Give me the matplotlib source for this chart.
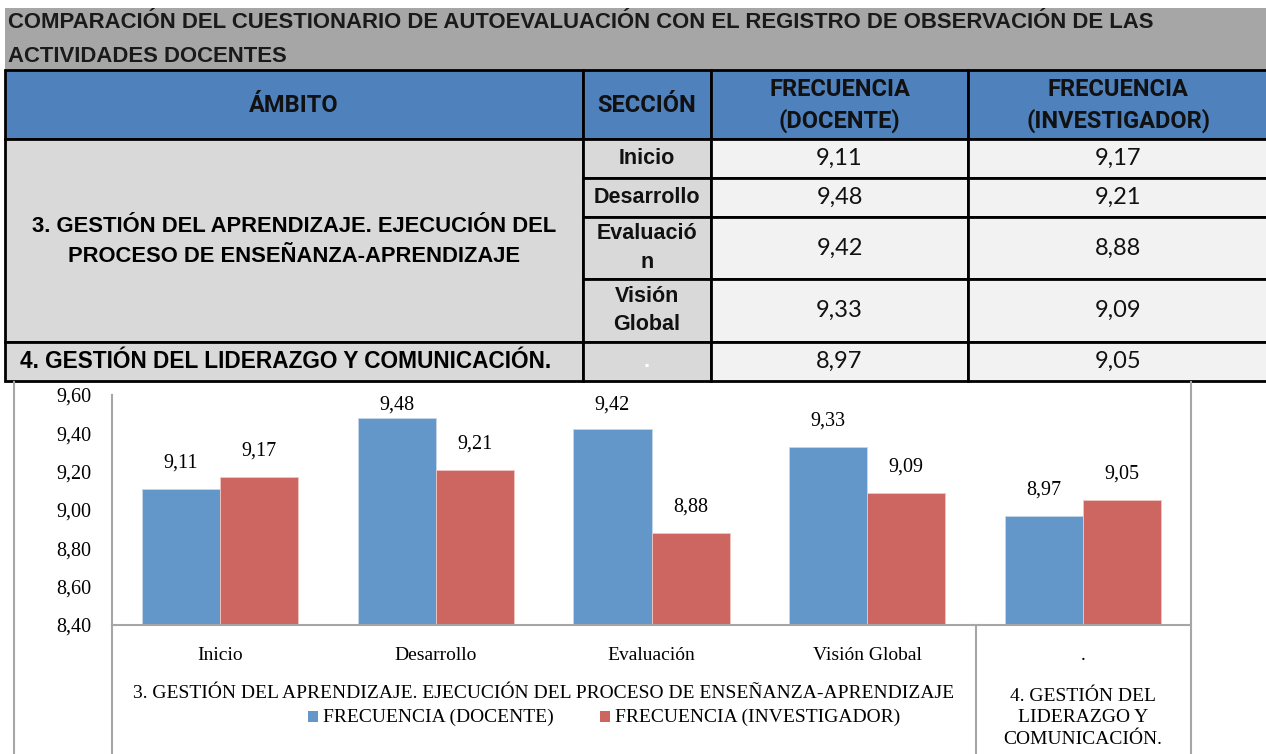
import matplotlib.pyplot as plt
from matplotlib.patches import Rectangle
import numpy as np

W, H = 1266, 754

titulo = ["COMPARACIÓN DEL CUESTIONARIO DE AUTOEVALUACIÓN CON EL REGISTRO DE OBSERVACIÓN DE LAS",
          "ACTIVIDADES DOCENTES"]
encabezados = ["ÁMBITO", "SECCIÓN", "FRECUENCIA\n(DOCENTE)", "FRECUENCIA\n(INVESTIGADOR)"]
ambitos_tabla = ["3. GESTIÓN DEL APRENDIZAJE. EJECUCIÓN DEL\nPROCESO DE ENSEÑANZA-APRENDIZAJE",
                 "4. GESTIÓN DEL LIDERAZGO Y COMUNICACIÓN."]
ambitos_graf = ["3. GESTIÓN DEL APRENDIZAJE. EJECUCIÓN DEL PROCESO DE ENSEÑANZA-APRENDIZAJE",
                "4. GESTIÓN DEL\nLIDERAZGO Y\nCOMUNICACIÓN."]
secciones = ["Inicio", "Desarrollo", "Evaluación", "Visión Global", "."]
secciones_tabla = ["Inicio", "Desarrollo", "Evaluació\nn", "Visión\nGlobal", "."]
docente = [9.11, 9.48, 9.42, 9.33, 8.97]
investigador = [9.17, 9.21, 8.88, 9.09, 9.05]
series = ["FRECUENCIA (DOCENTE)", "FRECUENCIA (INVESTIGADOR)"]

AZUL = "#6397ca"
ROJO = "#cd6660"
GRIS = "#a6a6a6"
NARROW = ["Liberation Sans Narrow", "Liberation Sans", "DejaVu Sans"]
CALIBRI = ["Lato", "DejaVu Sans"]
CALIBRI_B = ["Roboto", "Liberation Sans", "DejaVu Sans"]
SERIF = ["Liberation Serif", "DejaVu Serif"]


def coma(v):
    return f"{v:.2f}".replace(".", ",")


fig = plt.figure(figsize=(W / 100, H / 100), dpi=100)
bg = fig.add_axes([0, 0, 1, 1])
bg.set_xlim(0, W)
bg.set_ylim(H, 0)
bg.axis("off")

# --- title band ---
bg.add_patch(Rectangle((5, 8), W - 5, 62, facecolor="#a6a6a6", edgecolor="none"))
bg.text(8, 23, titulo[0], family=NARROW, weight="bold", fontsize=15.9, va="center", color="#1a1a1a")
bg.text(8, 57, titulo[1], family=NARROW, weight="bold", fontsize=15.9, va="center", color="#1a1a1a")

# --- table ---
col_x = [5, 583, 711, 968, W + 2]
row_y = [70, 139, 178, 217, 279, 342, 381]


def cell(x0, x1, y0, y1, fc):
    bg.add_patch(Rectangle((x0, y0), x1 - x0, y1 - y0, facecolor=fc, edgecolor="black", lw=2))


for j in range(4):
    cell(col_x[j], col_x[j + 1], row_y[0], row_y[1], "#4f81bd")
    bg.text((col_x[j] + col_x[j + 1]) / 2, (row_y[0] + row_y[1]) / 2 + 1, encabezados[j],
            family=CALIBRI_B, weight="bold", fontsize=17, ha="center", va="center",
            color="#111111", linespacing=1.4)

# merged ambit cells
cell(col_x[0], col_x[1], row_y[1], row_y[5], "#d9d9d9")
bg.text((col_x[0] + col_x[1]) / 2, (row_y[1] + row_y[5]) / 2 + 1, ambitos_tabla[0],
        family=NARROW, weight="bold", fontsize=15.8, ha="center", va="center", linespacing=1.5)
cell(col_x[0], col_x[1], row_y[5], row_y[6], "#d9d9d9")
bg.text((col_x[0] + col_x[1]) / 2 - 8, (row_y[5] + row_y[6]) / 2, ambitos_tabla[1],
        family=NARROW, weight="bold", fontsize=16.3, ha="center", va="center")

for i in range(5):
    y0, y1 = row_y[i + 1], row_y[i + 2]
    ym = (y0 + y1) / 2
    cell(col_x[1], col_x[2], y0, y1, "#d9d9d9")
    bg.text((col_x[1] + col_x[2]) / 2, ym, secciones_tabla[i], family=NARROW, weight="bold",
            fontsize=15.5, ha="center", va="center", linespacing=1.45,
            color="white" if secciones_tabla[i] == "." else "#111111")
    cell(col_x[2], col_x[3], y0, y1, "#f2f2f2")
    bg.text((col_x[2] + col_x[3]) / 2, ym, coma(docente[i]), family=CALIBRI,
            fontsize=17, ha="center", va="center", color="#111111")
    cell(col_x[3], col_x[4], y0, y1, "#f2f2f2")
    bg.text((col_x[3] + col_x[4]) / 2, ym, coma(investigador[i]), family=CALIBRI,
            fontsize=17, ha="center", va="center", color="#111111")

# --- chart frame ---
for xl in (14, 1191):
    bg.plot([xl, xl], [382, H], color=GRIS, lw=1.5)
for xl in (112, 976):
    bg.plot([xl, xl], [625, H], color=GRIS, lw=1.5)

# --- bar chart ---
L, R, T, B = 112, 1191, 395, 625
ax = fig.add_axes([L / W, 1 - B / H, (R - L) / W, (B - T) / H])
ax.patch.set_alpha(0)
ax.set_xlim(-0.5, len(secciones) - 0.5)
ax.set_ylim(8.4, 9.6)
x = np.arange(len(secciones))
bw = 0.362
ax.bar(x - bw / 2, docente, bw, color=AZUL, edgecolor="#c7d7ea", lw=0.6)
ax.bar(x + bw / 2, investigador, bw, color=ROJO, edgecolor="#f0c8c5", lw=0.6)

# labels sit ~26 px above the bar, but stay inside the chart area (as Excel does)
off = 26 / (B - T) * 1.2
tope = 9.55
for xs, vals in ((x - bw / 2, docente), (x + bw / 2, investigador)):
    for xi, v in zip(xs, vals):
        ax.text(xi, min(v + off, tope), coma(v), ha="center", va="center",
                family=SERIF, fontsize=14.5)

yt = np.arange(8.4, 9.61, 0.2)
ax.set_yticks(yt)
ax.set_yticklabels([coma(v) for v in yt], family=SERIF, fontsize=14.5)
ax.tick_params(axis="y", length=0, pad=15)
ax.set_xticks([])
for s in ("top", "right"):
    ax.spines[s].set_visible(False)
for s in ("left", "bottom"):
    ax.spines[s].set_color(GRIS)
    ax.spines[s].set_linewidth(1.5)

# category labels (in pixel space of bg)
gw = (R - L) / len(secciones)
for i, s in enumerate(secciones):
    bg.text(L + gw * (i + 0.5), 655, s, family=SERIF, fontsize=14, ha="center", va="center")
bg.text((L + 976) / 2, 693, ambitos_graf[0], family=SERIF, fontsize=14, ha="center", va="center")
bg.text(L + gw * 4.5, 718, ambitos_graf[1], family=SERIF, fontsize=14, ha="center",
        va="center", linespacing=1.35)

# legend
for k, (lx, c) in enumerate(zip((308, 600), (AZUL, ROJO))):
    bg.add_patch(Rectangle((lx, 711), 10, 11, facecolor=c, edgecolor="none"))
    bg.text(lx + 15, 717, series[k], family=SERIF, fontsize=14, ha="left", va="center")

fig.savefig("out.png", dpi=100)
